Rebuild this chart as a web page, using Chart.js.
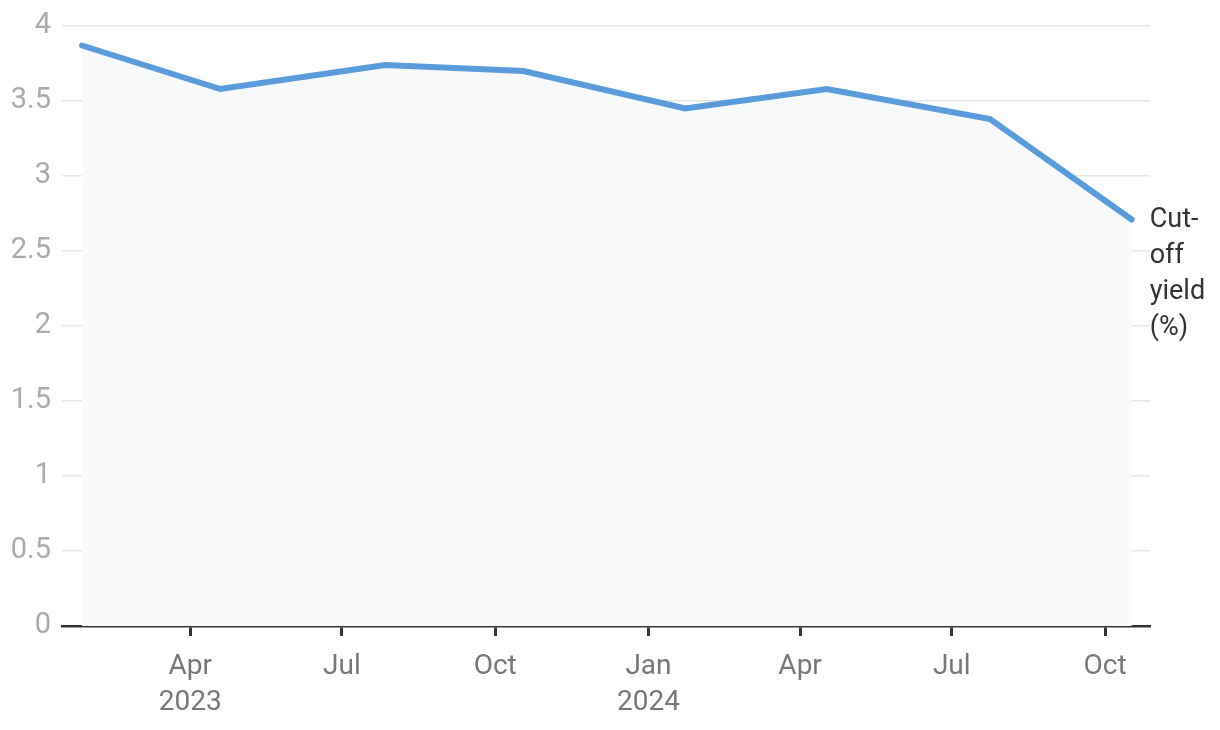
<!DOCTYPE html>
<html>
<head>
<meta charset="utf-8">
<script src="https://cdn.jsdelivr.net/npm/chart.js@4.4.1/dist/chart.umd.min.js"></script>
<style>
  html, body { margin: 0; padding: 0; background: #ffffff; }
  #wrap { width: 1220px; height: 730px; position: relative; }
</style>
</head>
<body>
<div id="wrap"><canvas id="c"></canvas></div>
<script>
// ---- Data ----
const auctionDates = ['2023-01-26', '2023-04-19', '2023-07-27', '2023-10-18', '2024-01-23', '2024-04-17', '2024-07-24', '2024-10-17'];
const cutoffYield = [3.87, 3.58, 3.74, 3.70, 3.45, 3.58, 3.38, 2.71];
const tickDates = ['2023-04-01', '2023-07-01', '2023-10-01', '2024-01-01', '2024-04-01', '2024-07-01', '2024-10-01'];
const tickLabels = [['Apr', '2023'], 'Jul', 'Oct', ['Jan', '2024'], 'Apr', 'Jul', 'Oct'];
const axisRange = ['2023-01-14', '2024-10-28'];
const seriesLabel = ['Cut-', 'off', 'yield', '(%)'];

const BASE = Date.UTC(2023, 0, 1);
function dayNum(s) {
  const p = s.split('-').map(Number);
  return (Date.UTC(p[0], p[1] - 1, p[2]) - BASE) / 86400000;
}
const points = auctionDates.map((d, i) => ({ x: dayNum(d), y: cutoffYield[i] }));
const tickValues = tickDates.map(dayNum);

const endLabel = {
  id: 'endLabel',
  afterDatasetsDraw(chart) {
    const meta = chart.getDatasetMeta(0);
    const last = meta.data[meta.data.length - 1];
    const ctx = chart.ctx;
    ctx.save();
    ctx.font = '27px Roboto';
    ctx.fillStyle = '#333333';
    ctx.textAlign = 'left';
    ctx.textBaseline = 'middle';
    seriesLabel.forEach((t, i) => {
      ctx.fillText(t, last.x + 18, last.y + 1 + i * 36);
    });
    ctx.restore();
  }
};

new Chart(document.getElementById('c'), {
  type: 'line',
  data: {
    datasets: [{
      data: points,
      borderColor: '#5a9bdc',
      borderWidth: 6,
      backgroundColor: '#f8f9f9',
      fill: 'origin',
      pointRadius: 0,
      tension: 0,
      borderCapStyle: 'round',
      borderJoinStyle: 'miter'
    }]
  },
  options: {
    responsive: true,
    maintainAspectRatio: false,
    animation: false,
    layout: { padding: { top: 26, right: 70, left: 0, bottom: 0 } },
    plugins: { legend: { display: false }, tooltip: { enabled: false } },
    scales: {
      x: {
        type: 'linear',
        min: dayNum(axisRange[0]),
        max: dayNum(axisRange[1]),
        afterBuildTicks(scale) {
          scale.ticks = tickValues.map(v => ({ value: v }));
        },
        afterFit(scale) {
          scale.height = 104;
          scale.paddingLeft = 0;
          scale.paddingRight = 0;
        },
        ticks: {
          autoSkip: false,
          maxRotation: 0,
          padding: 13,
          color: '#777777',
          font: { family: 'Roboto', size: 28, lineHeight: 1.28 },
          callback(value) {
            const i = tickValues.indexOf(value);
            return i >= 0 ? tickLabels[i] : '';
          }
        },
        grid: {
          drawOnChartArea: false,
          drawTicks: true,
          tickLength: 10,
          tickColor: '#333333',
          tickWidth: 3
        },
        border: { display: true, color: '#333333', width: 2.5 }
      },
      y: {
        min: 0,
        max: 4,
        afterFit(scale) {
          scale.width = 62;
          scale.paddingTop = 0;
          scale.paddingBottom = 0;
        },
        ticks: {
          stepSize: 0.5,
          padding: 11,
          color: '#aaaaaa',
          font: { family: 'Roboto', size: 29 },
          callback(value) { return String(value); }
        },
        grid: {
          color: '#e6e6e6',
          lineWidth: 1.5,
          drawTicks: false
        },
        border: { display: false }
      }
    }
  },
  plugins: [endLabel]
});
</script>
</body>
</html>
